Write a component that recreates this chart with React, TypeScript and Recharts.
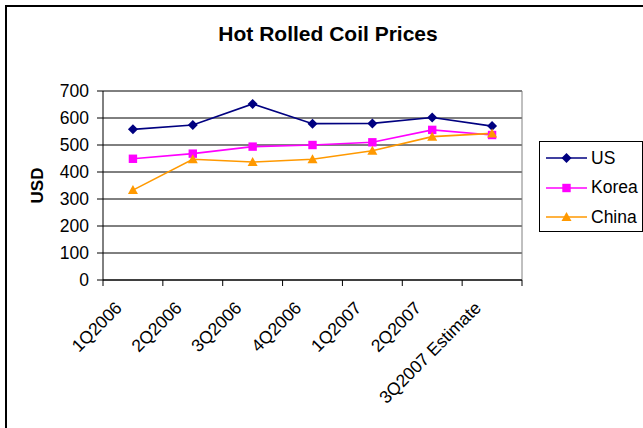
import { LineChart, Line, XAxis, YAxis, CartesianGrid, ReferenceLine, Legend } from "recharts"

const quarters = ["1Q2006", "2Q2006", "3Q2006", "4Q2006", "1Q2007", "2Q2007", "3Q2007 Estimate"]
const us = [558, 574, 652, 579, 580, 602, 570]
const korea = [449, 468, 494, 500, 510, 556, 537]
const china = [333, 447, 437, 447, 479, 531, 543]
const yTicks = [0, 100, 200, 300, 400, 500, 600, 700]

// x runs 0..n, each quarter sits in the middle of its slot
const data = quarters.map((q, i) => ({ pos: i + 0.5, quarter: q, US: us[i], Korea: korea[i], China: china[i] }))
const xTicks = Array.from({ length: quarters.length * 2 + 1 }, (_, i) => i / 2)

const FONT = '"Liberation Sans", Arial, sans-serif'

function Diamond({ cx, cy, color }: any) {
  const r = 5
  return <polygon points={`${cx},${cy - r} ${cx + r},${cy} ${cx},${cy + r} ${cx - r},${cy}`} fill={color} />
}

function Square({ cx, cy, color }: any) {
  const h = 4.2
  return <rect x={cx - h} y={cy - h} width={h * 2} height={h * 2} fill={color} />
}

function Triangle({ cx, cy, color }: any) {
  return <polygon points={`${cx},${cy - 5} ${cx + 5},${cy + 4} ${cx - 5},${cy + 4}`} fill={color} />
}

const series = [
  { key: "US", color: "#000080", Marker: Diamond },
  { key: "Korea", color: "#FF00FF", Marker: Square },
  { key: "China", color: "#FF9900", Marker: Triangle },
]

function XTick({ x, y, payload }: any) {
  const v = payload.value
  if (Number.isInteger(v)) {
    return <line x1={x} y1={y} x2={x} y2={y + 6} stroke="#000" strokeWidth={1} />
  }
  const label = quarters[Math.floor(v)]
  const tx = x - 10
  const ty = y + 29
  return (
    <text
      x={tx}
      y={ty}
      textAnchor="end"
      fontSize={17.5}
      fontFamily={FONT}
      fill="#000"
      transform={`rotate(-45, ${tx}, ${ty})`}
    >
      {label}
    </text>
  )
}

function UsdLabel({ viewBox }: any) {
  const x = (viewBox?.x ?? 0) + 37
  const y = (viewBox?.y ?? 0) + (viewBox?.height ?? 0) / 2
  return (
    <text
      x={x}
      y={y}
      textAnchor="middle"
      dominantBaseline="central"
      fontSize={17}
      fontWeight="bold"
      fontFamily={FONT}
      fill="#000"
      transform={`rotate(-90, ${x}, ${y})`}
    >
      USD
    </text>
  )
}

function LegendBox() {
  return (
    <div
      style={{
        border: "1px solid #000",
        background: "#fff",
        width: 104,
        height: 91,
        boxSizing: "border-box",
        paddingTop: 1.5,
        paddingLeft: 6,
        fontFamily: FONT,
      }}
    >
      {series.map(({ key, color, Marker }) => (
        <div key={key} style={{ display: "flex", alignItems: "center", height: 29.5 }}>
          <svg width={41} height={14} style={{ display: "block" }}>
            <line x1={0} y1={7} x2={41} y2={7} stroke={color} strokeWidth={1.6} />
            <Marker cx={20.5} cy={7} color={color} />
          </svg>
          <span style={{ marginLeft: 4, fontSize: 17.5, color: "#000", lineHeight: 1 }}>{key}</span>
        </div>
      ))}
    </div>
  )
}

export default function App() {
  return (
    <div
      style={{
        position: "absolute",
        left: 0,
        top: 0,
        width: 643,
        height: 428,
        overflow: "hidden",
        background: "#fff",
      }}
    >
      <div
        style={{
          position: "absolute",
          left: 5,
          top: 5,
          width: 700,
          height: 500,
          border: "2px solid #000",
        }}
      />
      <div
        style={{
          position: "absolute",
          left: 328,
          top: 22,
          transform: "translateX(-50%)",
          whiteSpace: "nowrap",
          fontFamily: FONT,
          fontWeight: "bold",
          fontSize: 21,
          color: "#000",
        }}
      >
        Hot Rolled Coil Prices
      </div>
      <LineChart
        width={643}
        height={428}
        data={data}
        margin={{ top: 91, right: 121, left: 0, bottom: 0 }}
        style={{ position: "absolute", left: 0, top: 0 }}
      >
        <CartesianGrid vertical={false} stroke="#000" strokeWidth={1} />
        <XAxis
          dataKey="pos"
          type="number"
          domain={[0, quarters.length]}
          ticks={xTicks}
          interval={0}
          height={148}
          tickLine={false}
          tickSize={0}
          tickMargin={0}
          axisLine={{ stroke: "#000", strokeWidth: 1 }}
          tick={<XTick />}
        />
        <YAxis
          domain={[0, 700]}
          ticks={yTicks}
          interval={0}
          width={103}
          tickSize={6}
          tickMargin={8}
          tickLine={{ stroke: "#000" }}
          axisLine={{ stroke: "#000", strokeWidth: 1 }}
          tick={{ fill: "#000", fontSize: 17.5, fontFamily: FONT }}
          label={<UsdLabel />}
        />
        <ReferenceLine y={700} stroke="#808080" strokeWidth={1} />
        <ReferenceLine x={quarters.length} stroke="#808080" strokeWidth={1} />
        <Legend
          layout="vertical"
          align="center"
          verticalAlign="middle"
          content={<LegendBox />}
          wrapperStyle={{ position: "absolute", left: 539, top: 141, width: 104, height: 91 }}
        />
        {series.map(({ key, color, Marker }) => (
          <Line
            key={key}
            dataKey={key}
            stroke={color}
            strokeWidth={1.6}
            isAnimationActive={false}
            dot={(p: any) => <Marker key={`${key}-${p.index}`} cx={p.cx} cy={p.cy} color={color} />}
            activeDot={false}
          />
        ))}
      </LineChart>
    </div>
  )
}
